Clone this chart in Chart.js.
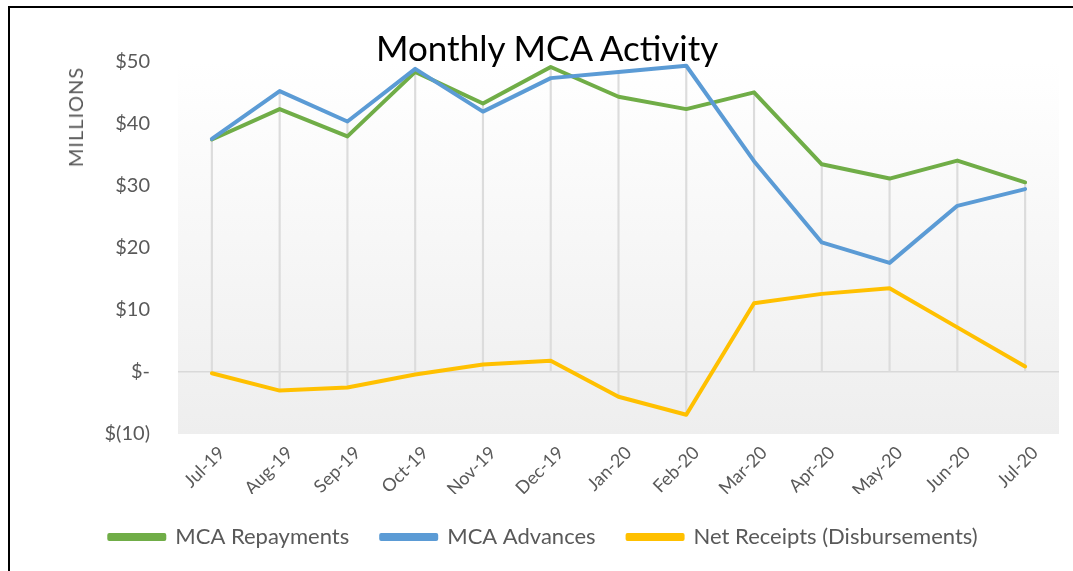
<!DOCTYPE html>
<html>
<head>
<meta charset="utf-8">
<title>Monthly MCA Activity</title>
<script src="https://cdn.jsdelivr.net/npm/chart.js@4/dist/chart.umd.min.js"></script>
<style>
    body { margin: 0; background: #fff; }
    #wrap { position: relative; width: 1073px; height: 571px; overflow: hidden; font-family: Lato, sans-serif; }
    #frame { position: absolute; left: 8px; top: 6px; width: 1200px; height: 700px; border-left: 2px solid #000; border-top: 2px solid #000; }
    #title { position: absolute; left: 376px; top: 30px; font-size: 35px; line-height: 1; color: #000; white-space: nowrap; }
    #ytitle { position: absolute; left: 75px; top: 117px; transform: translate(-50%, -50%) rotate(-90deg); font-size: 20px; letter-spacing: 1px; color: #595959; white-space: nowrap; }
    canvas { position: absolute; left: 0; top: 0; }
</style>
</head>
<body>
<div id="wrap">
    <div id="frame"></div>
    <canvas id="mcaChart" width="1073" height="571"></canvas>
    <div id="title">Monthly MCA Activity</div>
    <div id="ytitle">MILLIONS</div>
</div>
<script>
// Dữ liệu (triệu USD)
const months = ['Jul-19', 'Aug-19', 'Sep-19', 'Oct-19', 'Nov-19', 'Dec-19', 'Jan-20',
                'Feb-20', 'Mar-20', 'Apr-20', 'May-20', 'Jun-20', 'Jul-20'];
const repayments = [37.5, 42.4, 38.0, 48.4, 43.3, 49.2, 44.4, 42.4, 45.1, 33.5, 31.2, 34.1, 30.6];
const advances   = [37.6, 45.3, 40.4, 48.9, 42.0, 47.4, 48.4, 49.4, 34.0, 20.9, 17.6, 26.8, 29.5];
const netReceipts = [-0.2, -3.0, -2.5, -0.4, 1.2, 1.8, -4.0, -6.9, 11.1, 12.6, 13.5, 7.2, 0.9];
const yTicks = [-10, 0, 10, 20, 30, 40, 50];

// Đường thả (drop lines) từ điểm cao nhất xuống trục
const dropLines = months.map((m, i) => [
    Math.min(0, repayments[i], advances[i], netReceipts[i]),
    Math.max(repayments[i], advances[i], netReceipts[i])
]);

function moneyLabel(v) {
    if (v === 0) return '$-';
    if (v < 0) return '$(' + Math.abs(v) + ')';
    return '$' + v;
}

// Nền vùng vẽ dạng gradient
const plotBackground = {
    id: 'plotBackground',
    beforeDraw(chart) {
        const { ctx, chartArea: a } = chart;
        const g = ctx.createLinearGradient(0, a.top, 0, a.bottom);
        g.addColorStop(0, '#ffffff');
        g.addColorStop(1, '#eeeeee');
        ctx.save();
        ctx.fillStyle = g;
        ctx.fillRect(a.left, a.top, a.right - a.left, a.bottom - a.top);
        ctx.restore();
    }
};

Chart.defaults.font.family = 'Lato, sans-serif';
Chart.defaults.color = '#595959';

function lineSet(label, data, color, order) {
    return {
        type: 'line',
        label: label,
        data: data,
        borderColor: color,
        backgroundColor: color,
        borderWidth: 4,
        pointRadius: 0,
        tension: 0,
        fill: false,
        borderJoinStyle: 'round',
        borderCapStyle: 'round',
        order: order
    };
}

new Chart(document.getElementById('mcaChart'), {
    data: {
        labels: months,
        datasets: [
            lineSet('MCA Repayments', repayments, '#70AD47', 3),
            lineSet('MCA Advances', advances, '#5B9BD5', 2),
            lineSet('Net Receipts (Disbursements)', netReceipts, '#FFC000', 1),
            {
                type: 'bar',
                label: 'drop',
                data: dropLines,
                backgroundColor: '#dcdcdc',
                borderWidth: 0,
                barThickness: 1.5,
                order: 10
            }
        ]
    },
    options: {
        responsive: false,
        animation: false,
        layout: { padding: { left: 28, right: 14, top: 62, bottom: 13 } },
        plugins: {
            title: { display: false },
            tooltip: { enabled: false },
            legend: {
                position: 'bottom',
                labels: {
                    boxWidth: 55,
                    boxHeight: 4,
                    padding: 32,
                    font: { size: 22 },
                    color: '#595959',
                    filter: item => item.text !== 'drop',
                    sort: (a, b) => a.datasetIndex - b.datasetIndex
                }
            }
        },
        scales: {
            x: {
                offset: true,
                grid: { display: false },
                border: { display: false },
                ticks: { minRotation: 45, maxRotation: 45, padding: 0, labelOffset: 10, font: { size: 18 }, color: '#595959' },
                afterFit: scale => { scale.height = 60; }
            },
            y: {
                min: -10,
                max: 50,
                afterBuildTicks: scale => { scale.ticks = yTicks.map(v => ({ value: v })); },
                grid: {
                    drawTicks: false,
                    color: c => (c.tick && c.tick.value === 0) ? '#d9d9d9' : 'rgba(0,0,0,0)',
                    lineWidth: 1.5
                },
                border: { display: false },
                ticks: { padding: 28, font: { size: 20 }, color: '#595959', callback: v => moneyLabel(v) },
                afterFit: scale => { scale.width = 150; }
            }
        }
    },
    plugins: [plotBackground]
});
</script>
</body>
</html>
